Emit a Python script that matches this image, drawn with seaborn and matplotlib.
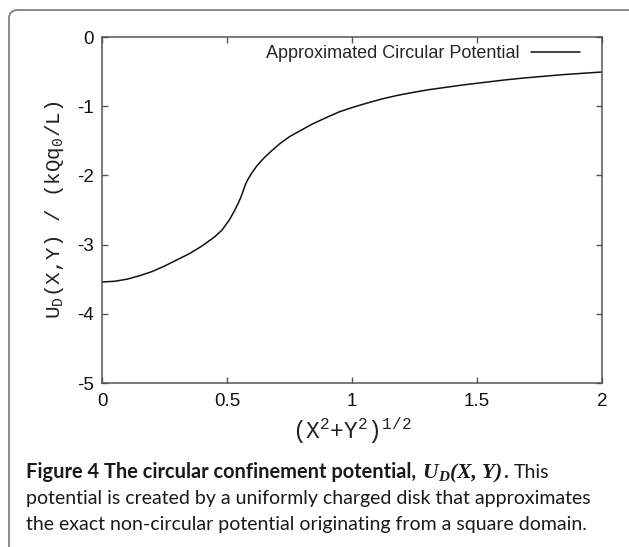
import matplotlib
matplotlib.use("Agg")
import matplotlib.pyplot as plt
from matplotlib.patches import FancyBboxPatch
import pandas as pd
import seaborn as sns

# ── data ──────────────────────────────────────────────────────
RADIUS = [0.00, 0.05, 0.10, 0.15, 0.20, 0.25, 0.30, 0.35, 0.40, 0.45,
          0.48, 0.51, 0.53, 0.545, 0.555, 0.565, 0.575, 0.585, 0.60, 0.62,
          0.65, 0.68, 0.712, 0.75, 0.79, 0.84, 0.90, 0.95, 1.00, 1.06,
          1.12, 1.18, 1.245, 1.31, 1.38, 1.45, 1.52, 1.60, 1.68, 1.76,
          1.84, 1.92, 2.00]
POTENTIAL = [-3.54, -3.53, -3.50, -3.45, -3.39, -3.31, -3.22, -3.13, -3.02, -2.89,
             -2.79, -2.64, -2.51, -2.40, -2.32, -2.22, -2.12, -2.05, -1.96, -1.86,
             -1.74, -1.64, -1.54, -1.44, -1.36, -1.26, -1.16, -1.08, -1.02, -0.955,
             -0.895, -0.845, -0.80, -0.76, -0.725, -0.69, -0.66, -0.625, -0.595, -0.57,
             -0.545, -0.525, -0.506]
SERIES_LABEL = "Approximated Circular Potential"

X_TICKS = [0, 0.5, 1, 1.5, 2]
X_TICK_LABELS = ["0", "0.5", "1", "1.5", "2"]
Y_TICKS = [0, -1, -2, -3, -4, -5]
Y_TICK_LABELS = ["0", "-1", "-2", "-3", "-4", "-5"]

CAPTION_LINES = [
    "potential is created by a uniformly charged disk that approximates",
    "the exact non-circular potential originating from a square domain.",
]

W, H = 629, 547

sns.set_style("ticks")
plt.rcParams["font.family"] = ["Liberation Sans", "DejaVu Sans"]
plt.rcParams["axes.unicode_minus"] = False

fig = plt.figure(figsize=(W / 100, H / 100), dpi=100)
ax = fig.add_axes([102 / W, 1 - 383 / H, 500 / W, 346 / H])

df = pd.DataFrame({"r": RADIUS, "u": POTENTIAL, "series": SERIES_LABEL})
sns.lineplot(data=df, x="r", y="u", hue="series", palette=["#111111"],
             linewidth=1.1, sort=False, ax=ax)

ax.set_xlim(0, 2)
ax.set_ylim(-5, 0)
ax.set_xticks(X_TICKS)
ax.set_xticklabels(X_TICK_LABELS)
ax.set_yticks(Y_TICKS)
ax.set_yticklabels(Y_TICK_LABELS)
ax.tick_params(direction="in", top=True, right=True, length=4, width=1,
               color="#555555", labelsize=13.5, labelcolor="#111111", pad=6)
ax.tick_params(axis="x", pad=7)
for sp in ax.spines.values():
    sp.set_color("#555555")
    sp.set_linewidth(1.1)

mono = ["Liberation Mono", "DejaVu Sans Mono"]
ax.set_xlabel(r"(X$^\mathregular{2}$+Y$^\mathregular{2}$)$^\mathregular{1/2}$",
              family=mono, fontsize=16.5, color="#222222", labelpad=4)
ax.set_ylabel(r"U$_\mathregular{D}$(X,Y) / (kQq$_\mathregular{0}$/L)",
              family=mono, fontsize=15, color="#222222", labelpad=8)

ax.legend(loc="upper right", frameon=False, markerfirst=False,
          handlelength=2.7, fontsize=13, borderpad=0, borderaxespad=0,
          handletextpad=0.65,
          bbox_to_anchor=(580 / W, 1 - 45 / H), bbox_transform=fig.transFigure)

# ── frame and caption ─────────────────────────────────────────
frame = FancyBboxPatch((9 / W, -0.05), 1.2, 1 - 10 / H + 0.05,
                       boxstyle="round,pad=0,rounding_size=0.015",
                       transform=fig.transFigure, fill=False,
                       edgecolor="#8a8a8a", linewidth=1.4, clip_on=False)
fig.patches.append(frame)

cap_font = ["Lato", "DejaVu Sans"]
renderer = fig.canvas.get_renderer()


def put_runs(y_px, runs, x_px=26):
    x = x_px
    for text, gap, dy, kw in runs:
        t = fig.text(x / W, 1 - (y_px - dy) / H, text, va="baseline",
                     color="#1a1a1a", **kw)
        bb = t.get_window_extent(renderer=renderer)
        x = bb.x1 + gap


serif = ["Liberation Serif", "DejaVu Serif"]
put_runs(478, [
    ("Figure 4 The circular confinement potential,", 6, 0,
     dict(family=cap_font, fontsize=14.4, weight="bold")),
    ("U", 0, 0, dict(family=serif, fontsize=15.5, weight="bold", style="italic")),
    ("D", 1, -3, dict(family=serif, fontsize=11, weight="bold", style="italic")),
    ("(X, Y)", 1, 0, dict(family=serif, fontsize=15.5, weight="bold", style="italic")),
    (".", 6, 0, dict(family=cap_font, fontsize=14.4, weight="bold")),
    ("This", 0, 0, dict(family=cap_font, fontsize=14.0)),
])
put_runs(504, [(CAPTION_LINES[0], 0, 0, dict(family=cap_font, fontsize=14.0))])
put_runs(530, [(CAPTION_LINES[1], 0, 0, dict(family=cap_font, fontsize=14.0))])

fig.savefig("out.png", dpi=100, facecolor="white")
